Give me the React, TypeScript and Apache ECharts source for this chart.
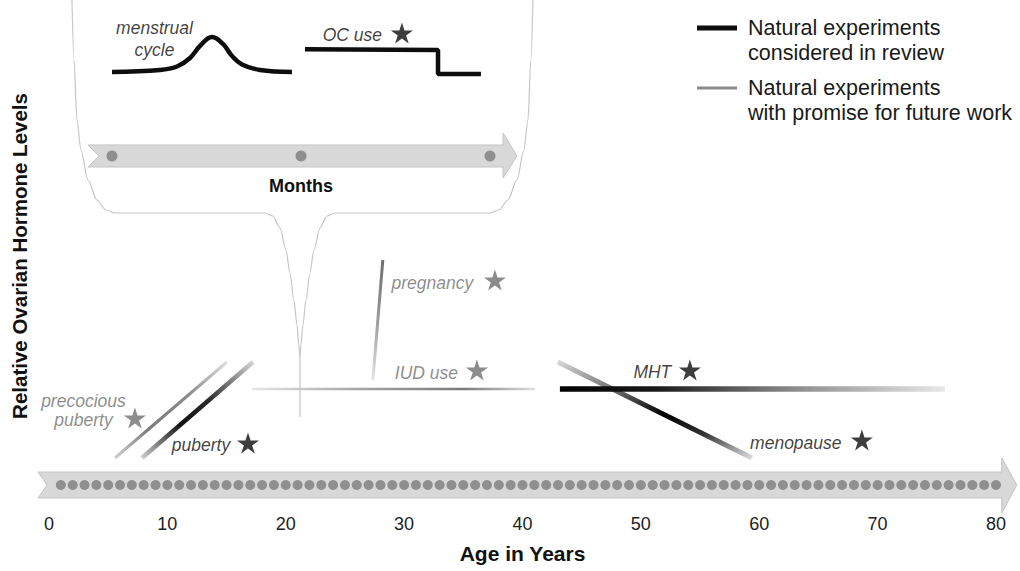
import React, { useEffect, useRef } from "react";
import * as echarts from "echarts";

// ---------- data ----------
const REVIEW = "Natural experiments\nconsidered in review";
const PROMISE = "Natural experiments\nwith promise for future work";

const ageMin = 0;
const ageMax = 80;
const ageInterval = 10;
// one dot per year of life on the age arrow
const ageDotYears = Array.from({ length: 80 }, (_, i) => i + 1);
const ageDotLevel = 6.75;
// inset: months scale
const monthDots = [0, 1, 2];
const monthDotLevel = 6.6;

// hormone trajectories in the life-course panel: [age, relative level]
const precociousPuberty = [[5.57, 13.5], [15.03, 37.5]];
const puberty = [[7.85, 13.5], [17.23, 37.5]];
const iudUse = [[17.15, 30.75], [41.05, 30.77]];
const pregnancy = [[27.36, 33], [28.2, 63]];
const mht = [[43.16, 30.75], [75.68, 30.77]];
const menopause = [[42.99, 37.5], [59.38, 13.5]];

// inset trajectories: [month, relative level]
const menstrualCycle = [
  [0, 56.9], [0.254, 58.1], [0.344, 60.2], [0.413, 65.3], [0.466, 72.5],
  [0.529, 77.8], [0.587, 73.7], [0.635, 66.5], [0.688, 61.4], [0.783, 58.1], [0.952, 56.9],
];
const ocUse = [[1.021, 70.5], [1.725, 70.1], [1.725, 55.7], [1.952, 55.7]];

// inset callout outline (in age / level units)
const calloutLeft = [
  [1.94, 128], [2.11, 113], [2.36, 98], [2.7, 90.5], [3.29, 83], [4.05, 78], [4.81, 75.5],
  [5.57, 74.75], [18.24, 74.75], [18.92, 74], [19.51, 71], [20.02, 65.5], [20.35, 59.75],
  [20.69, 53], [20.95, 46.75], [21.11, 41.75], [21.2, 38.75], [21.2, 23.75],
];
const calloutRight = [
  [40.88, 128], [40.71, 113], [40.46, 98], [40.12, 90.5], [39.53, 83], [38.77, 78], [38.01, 75.5],
  [37.25, 74.75], [24.16, 74.75], [23.48, 74], [22.89, 71], [22.38, 65.5], [22.04, 59.75],
  [21.71, 53], [21.45, 46.75], [21.28, 41.75], [21.2, 38.75],
];

// natural experiments: stars (kind: review = considered in review, promise = future work)
const starNames = ["precocious puberty", "puberty", "pregnancy", "IUD use", "MHT", "menopause"];
const starAges = [7.26, 16.81, 37.67, 36.15, 54.14, 68.67];
const starLevels = [23.5, 17.25, 58, 35.5, 35.5, 18];
const starKinds = ["promise", "review", "promise", "promise", "review", "review"];

const labelTexts = ["precocious\npuberty", "puberty", "pregnancy", "IUD use", "MHT", "menopause"];
const labelAges = [2.91, 12.84, 32.39, 31.88, 50.97, 63.09];
const labelLevels = [25.4, 16.75, 57.25, 34.75, 35, 17.25];

const insetLabelTexts = ["menstrual\ncycle", "OC use"];
const insetLabelMonths = [0.225, 1.272];
const insetLabelLevels = [76.6, 79.0];
const ocStar = [1.534, 80.24];

// arrow geometry (axis units)
const ageArrow = { tail: -0.93, notch: -0.17, headBase: 80.49, tip: 81.76, bodyTop: 10, bodyBottom: 3.5, headTop: 13.5, headBottom: -0.25, mid: 6.75 };
const monthArrow = { tail: -0.127, notch: -0.069, headBase: 2.069, tip: 2.143, bodyTop: 13.2, bodyBottom: 0, headTop: 20.4, headBottom: -6.6, mid: 6.6 };

// ---------- styles ----------
const FONT = "'Liberation Sans', Arial, Helvetica, sans-serif";
const BLACK = "#0d0d0d";
const GRAY = "#6f6f6f";
const STAR =
  "path://M50,0L61.17,34.63L97.55,34.55L68.07,55.87L79.39,90.45L50,69L20.61,90.45L31.93,55.87L2.45,34.55L38.83,34.63Z";
const kindColor = (k: string) => (k === "review" ? BLACK : GRAY);

function grad(x: number, y: number, x2: number, y2: number, stops: [number, string][]) {
  return {
    type: "linear",
    x, y, x2, y2,
    colorStops: stops.map(([offset, color]) => ({ offset, color })),
  };
}

function arrowSeries(spec: any, axisIndex: number) {
  return {
    type: "custom",
    xAxisIndex: axisIndex,
    yAxisIndex: axisIndex,
    silent: true,
    clip: false,
    z: 1,
    data: [0],
    renderItem: (_p: any, api: any) => {
      const c = (x: number, y: number) => api.coord([x, y]);
      return {
        type: "polygon",
        shape: {
          points: [
            c(spec.tail, spec.bodyTop),
            c(spec.headBase, spec.bodyTop),
            c(spec.headBase, spec.headTop),
            c(spec.tip, spec.mid),
            c(spec.headBase, spec.headBottom),
            c(spec.headBase, spec.bodyBottom),
            c(spec.tail, spec.bodyBottom),
            c(spec.notch, spec.mid),
          ],
        },
        style: { fill: "#d8d8d8", stroke: "#c4c4c4", lineWidth: 1 },
      };
    },
  };
}

function trend(name: string, data: number[][], width: number, color: any, z = 3) {
  return {
    type: "line",
    name,
    data,
    symbol: "none",
    silent: true,
    clip: false,
    z,
    lineStyle: { width, color, cap: "butt" },
  };
}

export default function App() {
  const ref = useRef<HTMLDivElement>(null);

  useEffect(() => {
    document.body.style.margin = "0";
    const chart = echarts.init(ref.current!, null, { renderer: "svg" });

    const legendText = {
      fontSize: 21.5,
      lineHeight: 25,
      color: "#1a1a1a",
      fontFamily: FONT,
      padding: [0, 0, 0, 6],
    };

    const option: any = {
      animation: false,
      textStyle: { fontFamily: FONT },
      grid: [
        { left: 49, right: 24, top: 0, bottom: 59, containLabel: false },
        { left: 112, width: 378, top: 0, height: 167, containLabel: false },
      ],
      xAxis: [
        {
          type: "value",
          gridIndex: 0,
          min: ageMin,
          max: ageMax,
          interval: ageInterval,
          axisLine: { show: false },
          axisTick: { show: false },
          splitLine: { show: false },
          axisLabel: { fontSize: 18, color: "#222", margin: 3, fontFamily: FONT },
          name: "Age in Years",
          nameLocation: "middle",
          nameGap: 31,
          nameTextStyle: { fontSize: 21, fontWeight: "bold", color: "#111", fontFamily: FONT },
        },
        {
          type: "value",
          gridIndex: 1,
          min: 0,
          max: 2,
          axisLine: { show: false },
          axisTick: { show: false },
          splitLine: { show: false },
          axisLabel: { show: false },
          name: "Months",
          nameLocation: "middle",
          nameGap: 10,
          nameTextStyle: { fontSize: 18, fontWeight: "bold", color: "#111", fontFamily: FONT },
        },
      ],
      yAxis: [
        {
          type: "value",
          gridIndex: 0,
          min: 0,
          max: 128,
          axisLine: { show: false },
          axisTick: { show: false },
          splitLine: { show: false },
          axisLabel: { show: false },
          name: "Relative Ovarian Hormone Levels",
          nameLocation: "middle",
          nameGap: 19,
          nameTextStyle: { fontSize: 20.5, fontWeight: "bold", color: "#111", fontFamily: FONT },
        },
        {
          type: "value",
          gridIndex: 1,
          min: 0,
          max: 100,
          show: false,
        },
      ],
      legend: [
        {
          data: [REVIEW],
          left: 697,
          top: -9.5,
          padding: 0,
          itemWidth: 40,
          itemHeight: 5,
          icon: "rect",
          selectedMode: false,
          formatter: (n: string) => "\n" + n,
          textStyle: legendText,
        },
        {
          data: [PROMISE],
          left: 697,
          top: 50.5,
          padding: 0,
          itemWidth: 40,
          itemHeight: 3,
          icon: "rect",
          selectedMode: false,
          formatter: (n: string) => "\n" + n,
          textStyle: legendText,
        },
      ],
      series: [
        // callout outline of the inset
        { ...trend("callout-left", calloutLeft, 1.2, "#c6c6c6", 0), smooth: 0.3, smoothMonotone: "x" },
        { ...trend("callout-right", calloutRight, 1.2, "#c6c6c6", 0), smooth: 0.3, smoothMonotone: "x" },

        // age arrow and dots
        arrowSeries(ageArrow, 0),
        {
          type: "scatter",
          xAxisIndex: 0,
          yAxisIndex: 0,
          silent: true,
          clip: false,
          z: 2,
          symbol: "circle",
          symbolSize: 10,
          itemStyle: { color: "#7d7d7d" },
          data: ageDotYears.map((y) => [y, ageDotLevel]),
        },

        // months arrow and dots
        arrowSeries(monthArrow, 1),
        {
          type: "scatter",
          xAxisIndex: 1,
          yAxisIndex: 1,
          silent: true,
          clip: false,
          z: 2,
          symbol: "circle",
          symbolSize: 11,
          itemStyle: { color: "#7d7d7d" },
          data: monthDots.map((m) => [m, monthDotLevel]),
        },

        // inset curves
        {
          ...trend("menstrual cycle", menstrualCycle, 4.5, BLACK),
          xAxisIndex: 1,
          yAxisIndex: 1,
          smooth: 0.4,
        },
        {
          ...trend("OC use", ocUse, 4.5, BLACK),
          xAxisIndex: 1,
          yAxisIndex: 1,
        },

        // life-course trajectories
        trend("precocious puberty", precociousPuberty, 3,
          grad(0, 1, 1, 0, [[0, "#d0d0d0"], [0.3, "#7a7a7a"], [0.65, "#8a8a8a"], [1, "#dedede"]])),
        trend("puberty", puberty, 4.5,
          grad(0, 1, 1, 0, [[0, "#cfcfcf"], [0.35, "#111"], [0.6, "#2a2a2a"], [1, "#d4d4d4"]])),
        trend("IUD use", iudUse, 2.5,
          grad(0, 0, 1, 0, [[0, "#e6e6e6"], [0.35, "#a8a8a8"], [0.75, "#7a7a7a"], [1, "#e0e0e0"]])),
        trend("pregnancy", pregnancy, 3,
          grad(0, 0, 0, 1, [[0, "#6e6e6e"], [0.5, "#9a9a9a"], [1, "#e4e4e4"]])),
        trend("MHT", mht, 5.5,
          grad(0, 0, 1, 0, [[0, "#000"], [0.25, "#1a1a1a"], [0.6, "#8a8a8a"], [1, "#e8e8e8"]]), 4),
        trend("menopause", menopause, 5,
          grad(0, 0, 1, 1, [[0, "#d6d6d6"], [0.3, "#6a6a6a"], [0.55, "#000"], [0.75, "#333"], [1, "#dcdcdc"]]), 3),

        // stars
        {
          type: "scatter",
          xAxisIndex: 0,
          yAxisIndex: 0,
          silent: true,
          clip: false,
          z: 5,
          symbol: STAR,
          symbolSize: [22, 21],
          data: starNames.map((n, i) => ({
            name: n,
            value: [starAges[i], starLevels[i]],
            itemStyle: { color: kindColor(starKinds[i]) },
          })),
        },
        {
          type: "scatter",
          xAxisIndex: 1,
          yAxisIndex: 1,
          silent: true,
          clip: false,
          z: 5,
          symbol: STAR,
          symbolSize: [22, 21],
          itemStyle: { color: BLACK },
          data: [{ name: "OC use", value: ocStar }],
        },

        // annotations
        {
          type: "scatter",
          xAxisIndex: 0,
          yAxisIndex: 0,
          silent: true,
          clip: false,
          z: 6,
          symbolSize: 1,
          itemStyle: { color: "rgba(0,0,0,0)" },
          label: {
            show: true,
            position: "inside",
            formatter: (p: any) => p.name,
            fontSize: 17.5,
            fontStyle: "italic",
            lineHeight: 19,
            align: "center",
            fontFamily: FONT,
          },
          data: labelTexts.map((t, i) => ({
            name: t,
            value: [labelAges[i], labelLevels[i]],
            label: { color: kindColor(starKinds[i]) },
          })),
        },
        {
          type: "scatter",
          xAxisIndex: 1,
          yAxisIndex: 1,
          silent: true,
          clip: false,
          z: 6,
          symbolSize: 1,
          itemStyle: { color: "rgba(0,0,0,0)" },
          label: {
            show: true,
            position: "inside",
            formatter: (p: any) => p.name,
            fontSize: 17.5,
            fontStyle: "italic",
            lineHeight: 22,
            align: "center",
            color: BLACK,
            fontFamily: FONT,
          },
          data: insetLabelTexts.map((t, i) => ({
            name: t,
            value: [insetLabelMonths[i], insetLabelLevels[i]],
          })),
        },

        // legend entries
        { type: "line", name: REVIEW, data: [], color: BLACK, symbol: "none", lineStyle: { width: 5 } },
        { type: "line", name: PROMISE, data: [], color: "#8a8a8a", symbol: "none", lineStyle: { width: 3 } },
      ],
    };

    chart.setOption(option);
    return () => chart.dispose();
  }, []);

  return <div ref={ref} style={{ width: 1020, height: 571 }} />;
}
